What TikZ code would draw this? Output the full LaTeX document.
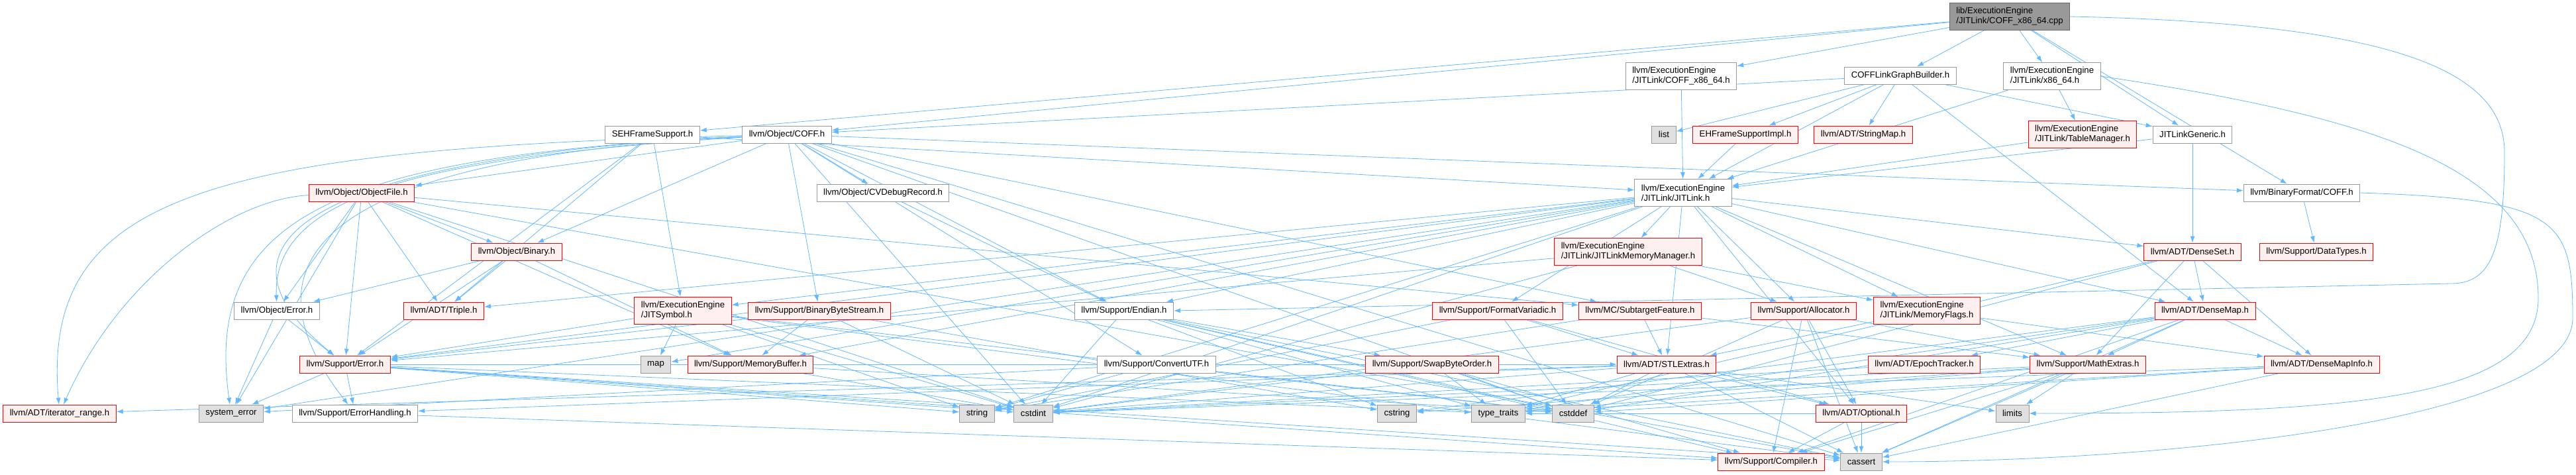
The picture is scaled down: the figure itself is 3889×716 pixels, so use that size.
\documentclass[tikz,border=0pt]{standalone}
\usepackage{fontspec}
\setmainfont{Liberation Sans}
\usetikzlibrary{arrows.meta}
\definecolor{edgeblue}{HTML}{63B8FF}
\definecolor{boxgray}{HTML}{999999}
\definecolor{rootedge}{HTML}{666666}
\definecolor{sysfill}{HTML}{E0E0E0}
\definecolor{truncfill}{HTML}{FFF0F0}
\pgfdeclarelayer{background}
\pgfsetlayers{background,main}

\begin{document}
\begin{tikzpicture}[
    x=1pt, y=-1pt,
    >={Latex[length=10pt,width=7pt]},
    font=\fontsize{13.2}{15}\selectfont,
    hdr/.style={draw=boxgray, fill=white, line width=1pt, inner xsep=10pt, inner ysep=2pt, minimum height=26pt},
    trunc/.style={hdr, draw=red, fill=truncfill},
    sysinc/.style={hdr, fill=sysfill},
    twoline/.style={align=left, minimum height=41pt},
    dep/.style={->, draw=edgeblue, line width=0.8pt}
]

\useasboundingbox (0,0) rectangle (3889,716);

\node[hdr, twoline, fill=boxgray, draw=rootedge] (root) at (3034,25) {lib/ExecutionEngine\\/JITLink/COFF\_x86\_64.cpp};

\node[hdr, twoline] (cofh) at (2538,115) {llvm/ExecutionEngine\\/JITLink/COFF\_x86\_64.h};
\node[hdr] (cgb) at (2869,114) {COFFLinkGraphBuilder.h};
\node[hdr, twoline] (x86) at (3098,115) {llvm/ExecutionEngine\\/JITLink/x86\_64.h};

\node[hdr] (seh) at (985,203) {SEHFrameSupport.h};
\node[hdr] (ocoff) at (1188,203) {llvm/Object/COFF.h};
\node[sysinc] (lst) at (2512,203) {list};
\node[trunc] (ehf) at (2635,203) {EHFrameSupportImpl.h};
\node[trunc] (smap) at (2813,203) {llvm/ADT/StringMap.h};
\node[trunc, twoline] (tblm) at (3144,203) {llvm/ExecutionEngine\\/JITLink/TableManager.h};
\node[hdr] (jlg) at (3310,203) {JITLinkGeneric.h};

\node[trunc] (objfile) at (546,291) {llvm/Object/ObjectFile.h};
\node[hdr] (cvdr) at (1333,291) {llvm/Object/CVDebugRecord.h};
\node[hdr, twoline] (jitlink) at (2541,291) {llvm/ExecutionEngine\\/JITLink/JITLink.h};
\node[hdr] (bfcoff) at (3475,291) {llvm/BinaryFormat/COFF.h};

\node[trunc] (binary) at (780,380) {llvm/Object/Binary.h};
\node[trunc, twoline] (jlmm) at (2458,380) {llvm/ExecutionEngine\\/JITLink/JITLinkMemoryManager.h};
\node[trunc] (dset) at (3310,380) {llvm/ADT/DenseSet.h};
\node[trunc] (dtypes) at (3497,380) {llvm/Support/DataTypes.h};

\node[hdr] (oerr) at (418,469) {llvm/Object/Error.h};
\node[trunc] (triple) at (670,469) {llvm/ADT/Triple.h};
\node[trunc, twoline] (jsym) at (1031,469) {llvm/ExecutionEngine\\/JITSymbol.h};
\node[trunc] (bbs) at (1237,469) {llvm/Support/BinaryByteStream.h};
\node[hdr] (endian) at (1697,469) {llvm/Support/Endian.h};
\node[trunc] (fvar) at (2261,469) {llvm/Support/FormatVariadic.h};
\node[trunc] (subtf) at (2476,469) {llvm/MC/SubtargetFeature.h};
\node[trunc] (alloc) at (2723,469) {llvm/Support/Allocator.h};
\node[trunc, twoline] (mflags) at (2909,469) {llvm/ExecutionEngine\\/JITLink/MemoryFlags.h};
\node[trunc] (dmap) at (3329,469) {llvm/ADT/DenseMap.h};

\node[trunc] (serr) at (521,550) {llvm/Support/Error.h};
\node[sysinc] (map) at (990,550) {map};
\node[trunc] (mbuf) at (1133,550) {llvm/Support/MemoryBuffer.h};
\node[hdr] (cutf) at (1746,550) {llvm/Support/ConvertUTF.h};
\node[trunc] (sbo) at (2162,550) {llvm/Support/SwapByteOrder.h};
\node[trunc] (stlx) at (2516,550) {llvm/ADT/STLExtras.h};
\node[trunc] (epoch) at (2905,550) {llvm/ADT/EpochTracker.h};
\node[trunc] (mathx) at (3152,550) {llvm/Support/MathExtras.h};
\node[trunc] (dmi) at (3505,550) {llvm/ADT/DenseMapInfo.h};

\node[trunc] (itr) at (90,624) {llvm/ADT/iterator\_range.h};
\node[sysinc] (syserr) at (349,624) {system\_error};
\node[hdr] (errh) at (536,624) {llvm/Support/ErrorHandling.h};
\node[sysinc] (string) at (1475,624) {string};
\node[sysinc] (cstdint) at (1560,624) {cstdint};
\node[sysinc] (cstring) at (2109,624) {cstring};
\node[sysinc] (ttraits) at (2262,624) {type\_traits};
\node[sysinc] (cstddef) at (2375,624) {cstddef};
\node[trunc] (optional) at (2810,624) {llvm/ADT/Optional.h};
\node[sysinc] (limits) at (3038,624) {limits};

\node[trunc] (compiler) at (2674,697) {llvm/Support/Compiler.h};
\node[sysinc] (cassert) at (2810,697) {cassert};

\coordinate (rbend) at (3781,230);
\coordinate (rturn) at (3700,428);
\coordinate (xbend) at (3832,450);
\coordinate (cbend) at (3884,480);

\begin{pgfonlayer}{background}
\foreach \to in {cofh,cgb,x86,jlg,bfcoff,seh,ocoff}
    \draw[dep] (root) -- (\to);
\draw[dep] (root.east) .. controls +(500,10) and +(0,-120) .. (rbend)
    .. controls +(0,150) and +(60,0) .. (rturn) -- (endian.east);
\draw[dep] (cofh) -- (jitlink);
\foreach \to in {lst,ehf,smap,jitlink,ocoff,jlg,dmap}
    \draw[dep] (cgb) -- (\to);
\foreach \to in {jitlink,tblm}
    \draw[dep] (x86) -- (\to);
\draw[dep] (x86.east) .. controls +(400,60) and +(0,-200) .. (xbend)
    .. controls +(0,150) and +(500,0) .. (limits.east);
\draw[dep] (ehf) -- (jitlink);
\draw[dep] (tblm) -- (jitlink);
\foreach \to in {jitlink,dset}
    \draw[dep] (jlg) -- (\to);
\foreach \to in {jitlink,serr,jsym,triple}
    \draw[dep] (seh) -- (\to);
\draw[dep] (ocoff) .. controls (300,225) and (63,300) .. (itr);
\draw[dep] (ocoff) .. controls (600,230) and (252,330) .. (serr);
\draw[dep] (ocoff) .. controls (500,235) and (307,330) .. (syserr);
\draw[dep] (ocoff) .. controls (560,235) and (330,360) .. (errh);
\draw[dep] (ocoff) .. controls (620,238) and (412,300) .. (oerr);
\foreach \to in {bfcoff,binary,cvdr,objfile,bbs,cutf,endian,subtf,cassert,cstddef,cstdint}
    \draw[dep] (ocoff) -- (\to);
\draw[dep] (bfcoff) -- (dtypes);
\draw[dep] (bfcoff.east) .. controls +(300,10) and +(0,-150) .. (cbend)
    .. controls +(0,160) and +(400,0) .. (cassert.east);
\foreach \to in {dmap,dset,optional,stlx,triple,jlmm,mflags,jsym,alloc,endian,serr,fvar,mathx,mbuf,map,string,syserr,cstdint}
    \draw[dep] (jitlink) -- (\to);
\draw[dep] (objfile) .. controls (350,300) and (180,420) .. (itr);
\foreach \to in {triple,binary,oerr,serr,mbuf,subtf,cassert,cstdint,syserr}
    \draw[dep] (objfile) -- (\to);
\foreach \to in {triple,oerr,serr,mbuf}
    \draw[dep] (binary) -- (\to);
\draw[dep] (cvdr) -- (endian);
\foreach \to in {mflags,alloc,serr,cstdint}
    \draw[dep] (jlmm) -- (\to);
\foreach \to in {dmap,dmi,mathx,cstddef,ttraits}
    \draw[dep] (dset) -- (\to);
\foreach \to in {serr,syserr}
    \draw[dep] (oerr) -- (\to);
\foreach \to in {map,serr,cassert,cstddef,cstdint,string}
    \draw[dep] (jsym) -- (\to);
\foreach \to in {serr,mbuf,cstdint,cstring}
    \draw[dep] (bbs) -- (\to);
\foreach \to in {sbo,compiler,cassert,cstddef,cstdint,cstring,ttraits}
    \draw[dep] (endian) -- (\to);
\foreach \to in {stlx,optional,cstddef,string}
    \draw[dep] (fvar) -- (\to);
\foreach \to in {stlx,mathx,string}
    \draw[dep] (subtf) -- (\to);
\foreach \to in {compiler,mathx,optional,cassert,cstddef,cstdint}
    \draw[dep] (alloc) -- (\to);
\foreach \to in {dmi,stlx}
    \draw[dep] (mflags) -- (\to);
\foreach \to in {dmi,epoch,mathx,compiler,cassert,cstddef,cstring,ttraits}
    \draw[dep] (dmap) -- (\to);
\foreach \to in {syserr,errh,stlx,compiler,cassert,cstdint,string,ttraits}
    \draw[dep] (serr) -- (\to);
\foreach \to in {cstddef,cstdint}
    \draw[dep] (mbuf) -- (\to);
\foreach \to in {string,cstddef,syserr}
    \draw[dep] (cutf) -- (\to);
\foreach \to in {compiler,cstddef,cstdint,ttraits}
    \draw[dep] (sbo) -- (\to);
\foreach \to in {optional,itr,errh,cassert,cstddef,cstdint,limits,ttraits}
    \draw[dep] (stlx) -- (\to);
\draw[dep] (epoch) -- (cstdint);
\foreach \to in {compiler,limits,cassert,cstdint,cstring,ttraits}
    \draw[dep] (mathx) -- (\to);
\foreach \to in {cassert,cstddef,cstdint,ttraits}
    \draw[dep] (dmi) -- (\to);
\draw[dep] (errh) -- (compiler);
\foreach \to in {compiler,cassert,ttraits}
    \draw[dep] (optional) -- (\to);
\end{pgfonlayer}

\end{tikzpicture}
\end{document}
